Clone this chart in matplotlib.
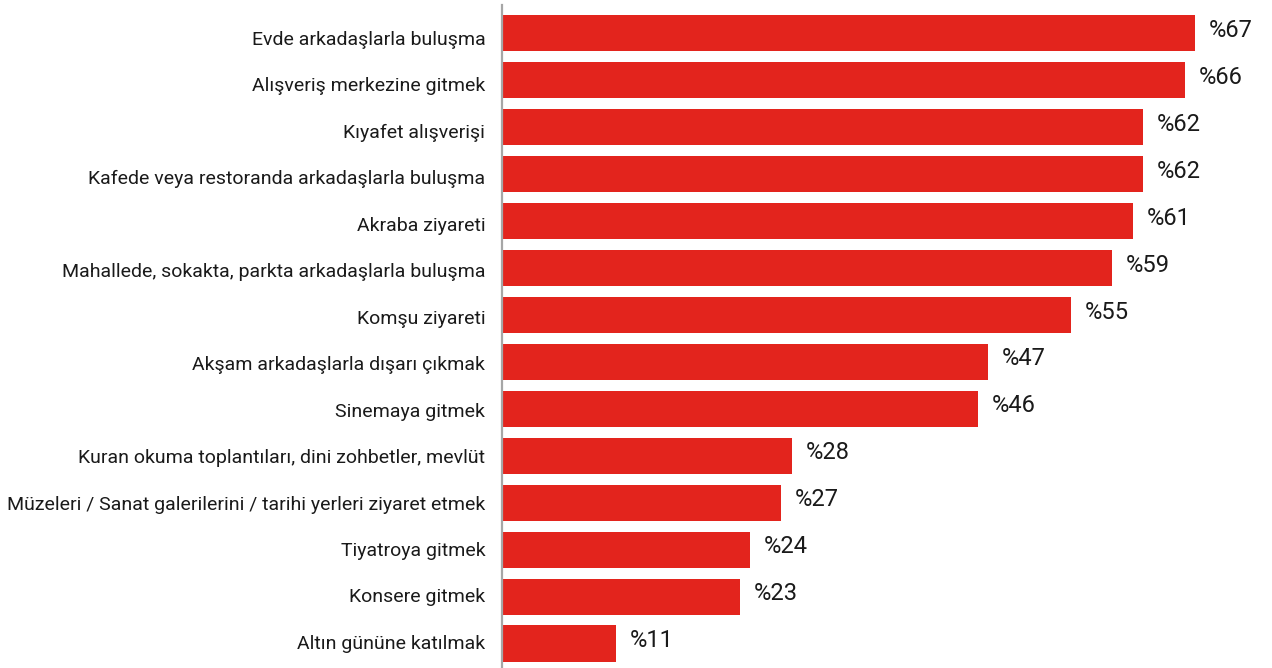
import matplotlib
matplotlib.use('Agg')
import matplotlib.pyplot as plt
import matplotlib.transforms as mtransforms

kategoriler = [
    'Evde arkadaşlarla buluşma',
    'Alışveriş merkezine gitmek',
    'Kıyafet alışverişi',
    'Kafede veya restoranda arkadaşlarla buluşma',
    'Akraba ziyareti',
    'Mahallede, sokakta, parkta arkadaşlarla buluşma',
    'Komşu ziyareti',
    'Akşam arkadaşlarla dışarı çıkmak',
    'Sinemaya gitmek',
    'Kuran okuma toplantıları, dini zohbetler, mevlüt',
    'Müzeleri / Sanat galerilerini / tarihi yerleri ziyaret etmek',
    'Tiyatroya gitmek',
    'Konsere gitmek',
    'Altın gününe katılmak',
]
oranlar = [67, 66, 62, 62, 61, 59, 55, 47, 46, 28, 27, 24, 23, 11]

plt.rcParams['font.family'] = ['Roboto', 'DejaVu Sans']

W, H = 1272, 668
fig = plt.figure(figsize=(W / 100, H / 100), dpi=100)
ax = fig.add_axes([502 / W, 0, 1 - 502 / W, 663 / H])

y = list(range(len(kategoriler)))
ax.barh(y, oranlar, height=0.77, color='#E3241D')

px_per_unit = (1195 - 502) / 67
ax.set_xlim(0, (W - 502) / px_per_unit)
ax.set_ylim(13.52, -0.596)

for i, v in enumerate(oranlar):
    ax.annotate('%' + str(v), (v, i), xytext=(10, 2), textcoords='offset points',
                va='center', ha='left', fontsize=17, color='#1a1a1a')

ax.set_yticks(y)
ax.set_yticklabels(kategoriler, fontsize=14, color='#1a1a1a')
ax.tick_params(axis='y', length=0, pad=12)
# etiketler çubuklara göre hafif kayık duruyor
n = len(kategoriler)
for i, lab in enumerate(ax.get_yticklabels()):
    kay = (5 - 6.7 * i / (n - 1)) / 100
    lab.set_transform(lab.get_transform() + mtransforms.ScaledTranslation(0, -kay, fig.dpi_scale_trans))
ax.set_xticks([])
for s in ['top', 'right', 'bottom']:
    ax.spines[s].set_visible(False)
ax.spines['left'].set_color('#a6a6a6')
ax.spines['left'].set_linewidth(1.6)

fig.savefig('out.png', dpi=100)
